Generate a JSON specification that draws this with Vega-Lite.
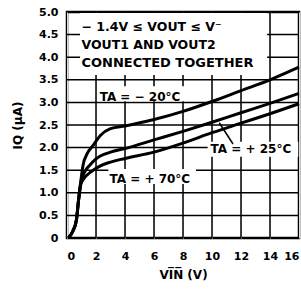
{
  "$schema": "https://vega.github.io/schema/vega-lite/v6.json",
  "autosize": "none",
  "width": 232,
  "height": 226,
  "padding": {"left": 67, "top": 12, "right": 2, "bottom": 56},
  "background": "white",
  "config": {
    "view": {"stroke": "black", "strokeWidth": 2.5},
    "font": "DejaVu Sans"
  },
  "datasets": {
    "curves": [
      {"series": "-20", "vin": 0.1, "iq": 0},
      {"series": "-20", "vin": 0.4, "iq": 0.15},
      {"series": "-20", "vin": 0.65, "iq": 0.4},
      {"series": "-20", "vin": 0.8, "iq": 0.85},
      {"series": "-20", "vin": 0.95, "iq": 1.25},
      {"series": "-20", "vin": 1.1, "iq": 1.6},
      {"series": "-20", "vin": 1.4, "iq": 1.87},
      {"series": "-20", "vin": 1.8, "iq": 2.05},
      {"series": "-20", "vin": 2.3, "iq": 2.27},
      {"series": "-20", "vin": 3, "iq": 2.42},
      {"series": "-20", "vin": 4, "iq": 2.48},
      {"series": "-20", "vin": 6, "iq": 2.62},
      {"series": "-20", "vin": 8, "iq": 2.8},
      {"series": "-20", "vin": 10, "iq": 3.02},
      {"series": "-20", "vin": 12, "iq": 3.26},
      {"series": "-20", "vin": 14, "iq": 3.5},
      {"series": "-20", "vin": 16, "iq": 3.78},
      {"series": "25", "vin": 0.1, "iq": 0},
      {"series": "25", "vin": 0.4, "iq": 0.15},
      {"series": "25", "vin": 0.65, "iq": 0.4},
      {"series": "25", "vin": 0.8, "iq": 0.85},
      {"series": "25", "vin": 0.95, "iq": 1.22},
      {"series": "25", "vin": 1.2, "iq": 1.45},
      {"series": "25", "vin": 1.6, "iq": 1.62},
      {"series": "25", "vin": 2, "iq": 1.75},
      {"series": "25", "vin": 3, "iq": 1.9},
      {"series": "25", "vin": 4, "iq": 1.98},
      {"series": "25", "vin": 6, "iq": 2.17},
      {"series": "25", "vin": 8, "iq": 2.36},
      {"series": "25", "vin": 10, "iq": 2.56},
      {"series": "25", "vin": 12, "iq": 2.77},
      {"series": "25", "vin": 14, "iq": 2.98},
      {"series": "25", "vin": 16, "iq": 3.2},
      {"series": "70", "vin": 0.1, "iq": 0},
      {"series": "70", "vin": 0.4, "iq": 0.15},
      {"series": "70", "vin": 0.65, "iq": 0.4},
      {"series": "70", "vin": 0.8, "iq": 0.85},
      {"series": "70", "vin": 0.95, "iq": 1.18},
      {"series": "70", "vin": 1.2, "iq": 1.33},
      {"series": "70", "vin": 1.6, "iq": 1.45},
      {"series": "70", "vin": 2.2, "iq": 1.58},
      {"series": "70", "vin": 3, "iq": 1.68},
      {"series": "70", "vin": 4, "iq": 1.76},
      {"series": "70", "vin": 6, "iq": 1.9},
      {"series": "70", "vin": 8, "iq": 2.1},
      {"series": "70", "vin": 10, "iq": 2.33},
      {"series": "70", "vin": 12, "iq": 2.54},
      {"series": "70", "vin": 14, "iq": 2.75},
      {"series": "70", "vin": 16, "iq": 2.97}
    ],
    "vlines": [{"vx": 2}, {"vx": 4}, {"vx": 6}, {"vx": 8}, {"vx": 10}, {"vx": 12}, {"vx": 14}],
    "hlines": [{"hy": 0.5}, {"hy": 1}, {"hy": 1.5}, {"hy": 2}, {"hy": 2.5}, {"hy": 3}, {"hy": 3.5}, {"hy": 4}, {"hy": 4.5}],
    "bigbox": [
      {"bx1": 0.9, "bx2": 13.8, "by": 4.29}
    ],
    "smallboxes": [
      {"bx1": 2.1, "bx2": 8.2, "by": 3.19},
      {"bx1": 2.85, "bx2": 8.9, "by": 1.36},
      {"bx1": 9.7, "bx2": 15.95, "by": 1.965}
    ],
    "labels": [
      {"lx": 1.0, "ly": 4.66, "t": "− 1.4V ≤ VOUT ≤ V⁻", "s": 12.5},
      {"lx": 1.0, "ly": 4.28, "t": "VOUT1 AND VOUT2", "s": 12.5},
      {"lx": 1.0, "ly": 3.88, "t": "CONNECTED TOGETHER", "s": 13},
      {"lx": 2.25, "ly": 3.13, "t": "TA = − 20°C", "s": 12},
      {"lx": 2.93, "ly": 1.31, "t": "TA = + 70°C", "s": 12},
      {"lx": 9.9, "ly": 1.97, "t": "TA = + 25°C", "s": 12}
    ],
    "arrow": [
      {"ax1": 10.5, "ay1": 2.55, "ax2": 11.45, "ay2": 2.08}
    ]
  },
  "layer": [
    {
      "data": {"name": "vlines"},
      "mark": {"type": "rule", "color": "black", "strokeWidth": 1.5},
      "encoding": {
        "x": {"field": "vx", "type": "quantitative",
              "scale": {"domain": [0, 16], "nice": false},
              "axis": {"domain": false, "ticks": false, "labelOverlap": false, "tickCount": 8,
                       "labelFontWeight": "bold", "labelFontSize": 11, "labelColor": "black",
                       "titleFontWeight": "bold", "titleFontSize": 12, "titleColor": "black",
                       "labelPadding": 12, "title": "VI̅N̅  (V)", "titlePadding": 8}},
        "y": {"datum": 0, "type": "quantitative",
              "scale": {"domain": [0, 5], "nice": false},
              "axis": {"domain": false, "ticks": false, "labelOverlap": false, "tickCount": 10,
                       "labelFontWeight": "bold", "labelFontSize": 11, "labelColor": "black",
                       "titleFontWeight": "bold", "titleFontSize": 12, "titleColor": "black",
                       "labelPadding": 9,
                       "labelExpr": "datum.value == 0 ? '0' : format(datum.value, '.1f')",
                       "title": "IQ  (µA)", "titlePadding": 14}},
        "y2": {"datum": 5}
      }
    },
    {
      "data": {"name": "hlines"},
      "mark": {"type": "rule", "color": "black", "strokeWidth": 1.5},
      "encoding": {
        "y": {"field": "hy", "type": "quantitative"},
        "x": {"datum": 0, "type": "quantitative"},
        "x2": {"datum": 16}
      }
    },
    {
      "data": {"name": "bigbox"},
      "mark": {"type": "rule", "color": "white", "strokeWidth": 62, "strokeCap": "butt"},
      "encoding": {
        "x": {"field": "bx1", "type": "quantitative"},
        "x2": {"field": "bx2"},
        "y": {"field": "by", "type": "quantitative"}
      }
    },
    {
      "data": {"name": "smallboxes"},
      "mark": {"type": "rule", "color": "white", "strokeWidth": 15, "strokeCap": "butt"},
      "encoding": {
        "x": {"field": "bx1", "type": "quantitative"},
        "x2": {"field": "bx2"},
        "y": {"field": "by", "type": "quantitative"}
      }
    },
    {
      "data": {"name": "curves"},
      "mark": {"type": "line", "color": "black", "strokeWidth": 3, "interpolate": "monotone"},
      "encoding": {
        "x": {"field": "vin", "type": "quantitative"},
        "y": {"field": "iq", "type": "quantitative"},
        "detail": {"field": "series"}
      }
    },
    {
      "data": {"name": "arrow"},
      "mark": {"type": "rule", "color": "black", "strokeWidth": 1.5},
      "encoding": {
        "x": {"field": "ax1", "type": "quantitative"},
        "y": {"field": "ay1", "type": "quantitative"},
        "x2": {"field": "ax2"},
        "y2": {"field": "ay2"}
      }
    },
    {
      "data": {"name": "labels"},
      "mark": {"type": "text", "align": "left", "baseline": "middle", "fontWeight": "bold", "color": "black", "font": "DejaVu Sans"},
      "encoding": {
        "x": {"field": "lx", "type": "quantitative"},
        "y": {"field": "ly", "type": "quantitative"},
        "text": {"field": "t"},
        "size": {"field": "s", "type": "quantitative", "scale": null}
      }
    }
  ]
}
